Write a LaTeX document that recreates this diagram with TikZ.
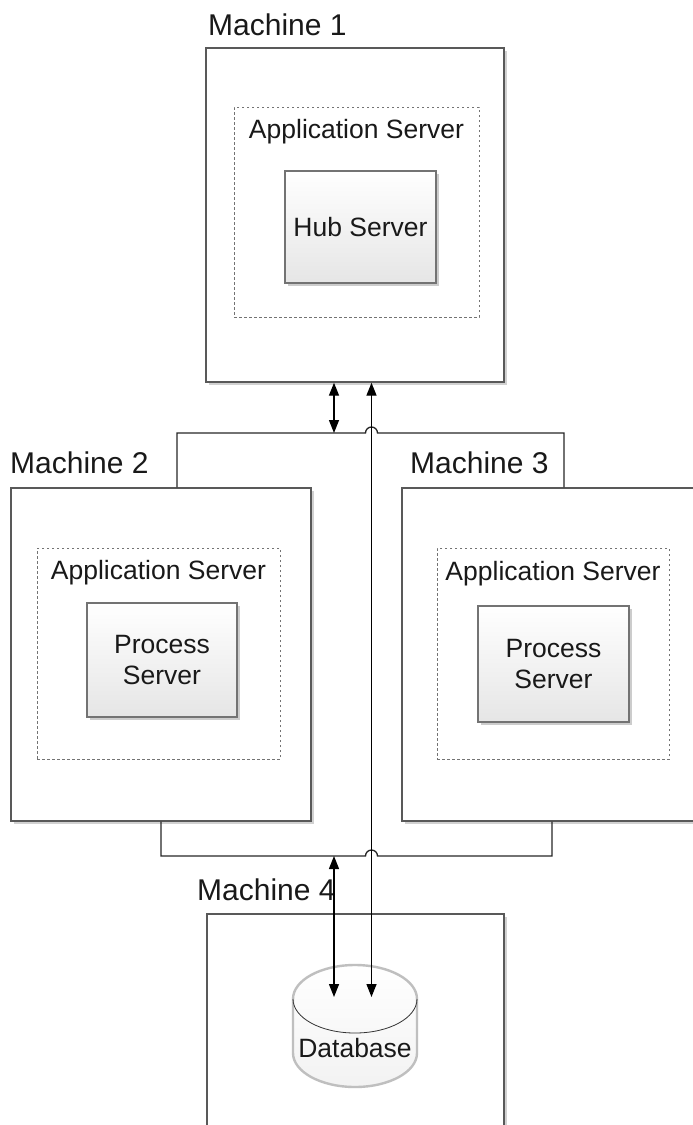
\documentclass[tikz,border=0pt]{standalone}
\usepackage{fontspec}
\setmainfont{Liberation Sans}
\usetikzlibrary{arrows.meta,shadows}

\newcommand\boxfont{\fontsize{26.5}{31}\selectfont}
\newcommand\machfont{\fontsize{30}{36}\selectfont}

\tikzset{
  machine/.style={draw=black!65, line width=1.4pt, fill=white, inner sep=0pt,
    drop shadow={shadow xshift=3pt, shadow yshift=-3pt, fill=black, opacity=0.18}},
  appserver/.style={draw=black!55, line width=1pt, dash pattern=on 2.5pt off 2.5pt, inner sep=0pt},
  component/.style={draw=black!55, line width=1.6pt, top color=white, bottom color=black!10,
    drop shadow={shadow xshift=3pt, shadow yshift=-3pt, fill=black, opacity=0.2},
    align=center, text=black!90, font=\boxfont},
  machlabel/.style={anchor=base west, inner sep=0pt, text=black!90, font=\machfont},
  srvlabel/.style={anchor=base, inner sep=0pt, text=black!90, font=\boxfont},
  dbcyl/.style={draw=black!25, line width=2.4pt, top color=white, bottom color=black!5},
  bus/.style={draw=black!85, line width=1.3pt},
  link/.style={draw=black, line width=1.4pt, {Triangle[length=13pt,width=10pt]}-{Triangle[length=13pt,width=10pt]}}
}

\begin{document}
\begin{tikzpicture}[x=1pt,y=1pt]
\useasboundingbox (0,0) rectangle (693,-1125);
\clip (0,0) rectangle (693,-1125);

%% machines
\node[machine, minimum width=298pt, minimum height=334pt] (m1) at (355,-215) {};     %% machine 1
\node[machine, minimum width=300pt, minimum height=333pt] (m2) at (161,-654.5) {};   %% machine 2
\node[machine, minimum width=300pt, minimum height=333pt] (m3) at (552,-654.5) {};   %% machine 3
\node[machine, minimum width=297pt, minimum height=334pt] (m4) at (355.5,-1081) {};  %% machine 4

%% machine labels
\node[machlabel] (m1lbl) at (208,-35) {Machine 1};
\node[machlabel] (m2lbl) at (10,-473) {Machine 2};
\node[machlabel] (m3lbl) at (410,-473) {Machine 3};
\node[machlabel] (m4lbl) at (197,-900) {Machine 4};

%% application servers
\node[appserver, minimum width=245pt, minimum height=210pt] (app1) at (356.5,-212) {};
\node[appserver, minimum width=243pt, minimum height=211pt] (app2) at (158.5,-653.5) {};
\node[appserver, minimum width=232pt, minimum height=211pt] (app3) at (553,-653.5) {};

\node[srvlabel] (app1lbl) at ([yshift=-32pt]app1.north) {Application Server};
\node[srvlabel] (app2lbl) at ([yshift=-32pt]app2.north) {Application Server};
\node[srvlabel] (app3lbl) at ([yshift=-33pt]app3.north) {Application Server};

%% servers
\node[component, minimum width=151pt, minimum height=112pt] (hub) at (360.5,-227) {Hub Server};
\node[component, minimum width=150pt, minimum height=114pt] (proc2) at (162,-660) {Process\\Server};
\node[component, minimum width=151pt, minimum height=116pt] (proc3) at (553.5,-664) {Process\\Server};

%% database
\draw[dbcyl] (293,-999) -- (293,-1053) arc[start angle=180, end angle=360, x radius=62, y radius=34]
  -- (417,-999) arc[start angle=0, end angle=180, x radius=62, y radius=34] -- cycle;
\draw[black!80, line width=0.8pt] (293,-999) arc[start angle=180, end angle=360, x radius=62, y radius=34];
\node[srvlabel, anchor=center] (db) at (355,-1048) {Database};
\coordinate (dbin1) at (334,-997);
\coordinate (dbin2) at (371.5,-997);

%% buses
\coordinate (bus1) at (334,-433);
\coordinate (bus2) at (334,-856);
\draw[bus] ([xshift=16pt]m2.north) |- (365.5,-433) arc[start angle=180, end angle=0, radius=6] -| ([xshift=12pt]m3.north);
\draw[bus] (m2.south) |- (365.5,-856) arc[start angle=180, end angle=0, radius=6] -| (m3.south);

%% links
\draw[link] (bus1 |- m1.south) -- (bus1);        %% machine 1 - top bus
\draw[link] (bus2) -- (dbin1);                   %% bottom bus - database
\draw[link] (dbin2) -- (dbin2 |- m1.south);      %% database - machine 1
\end{tikzpicture}
\end{document}
